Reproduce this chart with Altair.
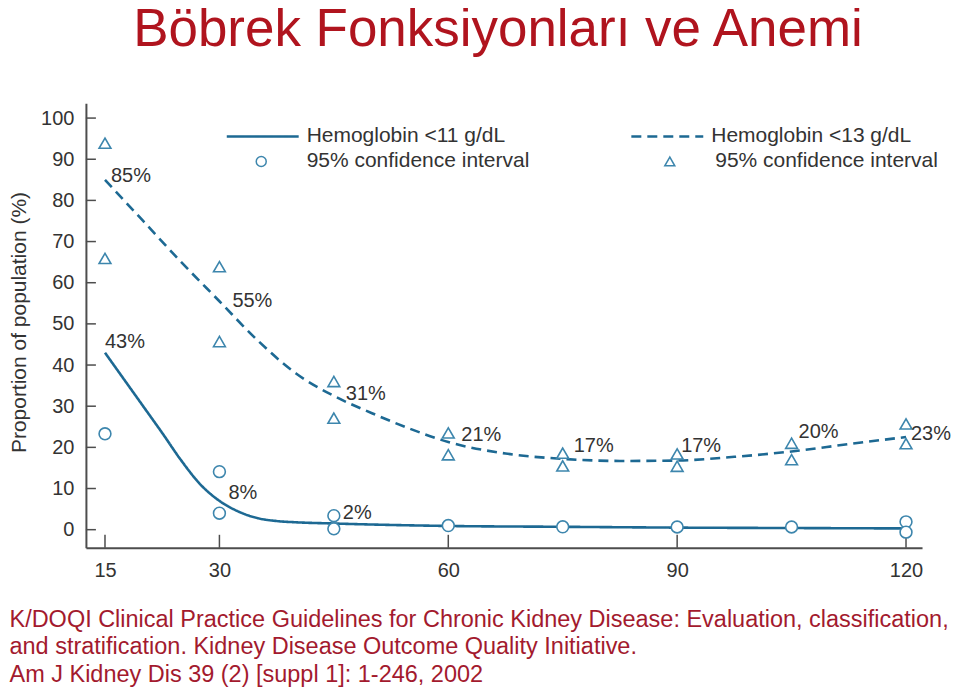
import altair as alt
import pandas as pd

# ---- data ----
series_names = ["Hemoglobin <11 g/dL", "Hemoglobin <13 g/dL"]
ci_names = ["ci11", "ci13"]

hb11_x = [15, 17.5, 20, 22.5, 25, 27.5, 30, 32.5, 35, 37.5, 40, 45, 60, 75, 90, 105, 120]
hb11_y = [43, 36.5, 30, 23.5, 16.8, 11.0, 7.0, 4.4, 2.8, 2.1, 1.8, 1.5, 0.9, 0.7, 0.5, 0.4, 0.3]

hb13_x = [15, 20, 25, 30, 35, 40, 45, 50, 55, 60, 67.5, 75, 82.5, 90, 97.5, 105, 112.5, 120]
hb13_y = [85, 75, 65, 55.5, 46, 38, 32.5, 28.3, 24.5, 21.3, 18.5, 17.2, 16.7, 16.8, 17.7, 19, 20.8, 22.5]

ci11_x = [15, 30, 30, 45, 45, 60, 75, 90, 105, 120, 120]
ci11_y = [23.3, 14.1, 4.0, 3.4, 0.2, 1.0, 0.7, 0.65, 0.65, 1.9, -0.6]

ci13_x = [15, 15, 30, 30, 45, 45, 60, 60, 75, 75, 90, 90, 105, 105, 120, 120]
ci13_y = [93.9, 65.9, 63.9, 45.7, 36.0, 27.1, 23.5, 18.2, 18.6, 15.5, 18.4, 15.4, 21.0, 17.0, 25.7, 20.9]

label_x = [15, 30, 15, 30, 45, 45, 60, 75, 90, 105, 120]
label_v = [85, 55, 43, 8, 31, 2, 21, 17, 17, 20, 23]
label_text = ["85%", "55%", "43%", "8%", "31%", "2%", "21%", "17%", "17%", "20%", "23%"]

x_ticks = [15, 30, 60, 90, 120]
y_ticks = [0, 10, 20, 30, 40, 50, 60, 70, 80, 90, 100]

title_text = "Böbrek Fonksiyonları ve Anemi"
footer_lines = [
    "K/DOQI Clinical Practice Guidelines for Chronic Kidney Disease: Evaluation, classification,",
    "and stratification. Kidney Disease Outcome Quality Initiative.",
    "Am J Kidney Dis 39 (2) [suppl 1]: 1-246, 2002",
]
y_title = "Proportion of population (%)"

# ---- styles ----
W, H = 837, 445
LINE = "#1d6993"
PT = "#3d86ad"
GRAY = "#4d4d4d"
TXT = "#333333"
FONT = "Liberation Sans"
label_dx = [6, 13, 0, 9, 12, 9, 13, 11, 4, 7, 5]
label_dy = [-4, -2, -11, -4, -8, -8, -8, -14, -14, -15, -1]

xs = alt.Scale(domain=[12.5, 122.1], nice=False, zero=False)
ys = alt.Scale(domain=[-4.4, 103.6], nice=False, zero=False)

x_axis = alt.Axis(
    values=x_ticks, ticks=False, tickSize=0, grid=False,
    domainColor=GRAY, domainWidth=2, labelFontSize=20, labelColor=TXT,
    labelPadding=13, labelFont=FONT,
    title=footer_lines, titleFont=FONT, titleFontSize=23.5, titleFontWeight="normal",
    titleColor="#A31A2E", titleAlign="left", titleAnchor="start",
    titleBaseline="top", titleX=-77, titleY=59.5, titleLineHeight=27.5, titleLimit=1200,
)
y_axis = alt.Axis(
    values=y_ticks, ticks=False, tickSize=0, grid=False,
    domainColor=GRAY, domainWidth=2, labelFontSize=20, labelColor=TXT,
    labelPadding=12, labelFont=FONT,
    title=y_title, titleFont=FONT, titleFontSize=21, titleFontWeight="normal",
    titleColor=TXT, titleAngle=270, titleAlign="center", titleBaseline="middle",
    titleX=-66, titleY=219,
)

lines_df = pd.DataFrame({
    "x": hb11_x + hb13_x,
    "v": hb11_y + hb13_y,
    "series": [series_names[0]] * len(hb11_x) + [series_names[1]] * len(hb13_x),
})
pts_df = pd.DataFrame({
    "x": ci11_x + ci13_x,
    "v": ci11_y + ci13_y,
    "ci": [ci_names[0]] * len(ci11_x) + [ci_names[1]] * len(ci13_x),
})

lines = alt.Chart(lines_df).mark_line(
    color=LINE, strokeWidth=2.6, interpolate="monotone"
).encode(
    x=alt.X("x:Q", scale=xs, axis=x_axis),
    y=alt.Y("v:Q", scale=ys, axis=y_axis),
    strokeDash=alt.StrokeDash("series:N", scale=alt.Scale(domain=series_names, range=[[1, 0], [10, 6]]),
        legend=alt.Legend(
            title=None, orient="none", legendX=139.5, legendY=-4.5, direction="horizontal",
            columns=2, columnPadding=120, symbolType="stroke", symbolSize=5184,
            symbolStrokeWidth=2.6, symbolStrokeColor=LINE, labelFontSize=21,
            labelColor=TXT, labelFont=FONT, labelOffset=6.5, padding=0, labelLimit=400,
        )),
)

points = alt.Chart(pts_df).mark_point(
    filled=True, strokeWidth=1.6, size=140, opacity=1
).encode(
    x=alt.X("x:Q", scale=xs, axis=x_axis),
    y=alt.Y("v:Q", scale=ys, axis=y_axis),
    fill=alt.value("white"),
    stroke=alt.value(PT),
    shape=alt.Shape("ci:N", scale=alt.Scale(domain=ci_names, range=["circle", "triangle-up"]),
        legend=alt.Legend(
            title=None, orient="none", legendX=165, legendY=47.5, direction="horizontal",
            columns=2, columnPadding=130, symbolSize=100, symbolOpacity=1,
            symbolStrokeWidth=1.5, labelExpr="'95% confidence interval'",
            labelFontSize=21, labelColor=TXT, labelFont=FONT, labelOffset=35, padding=0,
            labelLimit=400,
        )),
)

xtick = alt.Chart(pd.DataFrame({"x": x_ticks})).mark_rule(color=GRAY, strokeWidth=1.5).encode(
    x=alt.X("x:Q", scale=xs, axis=x_axis), y=alt.value(H), y2=alt.value(H - 13)
)
ytick = alt.Chart(pd.DataFrame({"v": y_ticks})).mark_rule(color=GRAY, strokeWidth=1.5).encode(
    y=alt.Y("v:Q", scale=ys, axis=y_axis), x=alt.value(0), x2=alt.value(10)
)

labels = []
for lx, lv, lt, ddx, ddy in zip(label_x, label_v, label_text, label_dx, label_dy):
    labels.append(
        alt.Chart(pd.DataFrame({"x": [lx], "v": [lv], "t": [lt]})).mark_text(
            align="left", baseline="middle", dx=ddx, dy=ddy, fontSize=20, color=TXT, font=FONT
        ).encode(
            x=alt.X("x:Q", scale=xs, axis=x_axis),
            y=alt.Y("v:Q", scale=ys, axis=y_axis),
            text="t:N",
        )
    )

chart = alt.layer(lines, xtick, ytick, points, *labels).properties(
    width=W, height=H,
    title=alt.TitleParams(title_text, fontSize=53, color="#B0141E", font=FONT,
                          fontWeight="normal", anchor="middle", offset=42, dx=-6),
    autosize=alt.AutoSizeParams(type="none"),
    padding={"left": 78, "top": 95, "right": 30, "bottom": 139},
).configure(background="white", font=FONT).configure_view(stroke=None)

chart.save("out.html", embed_options={"renderer": "svg", "actions": False})
